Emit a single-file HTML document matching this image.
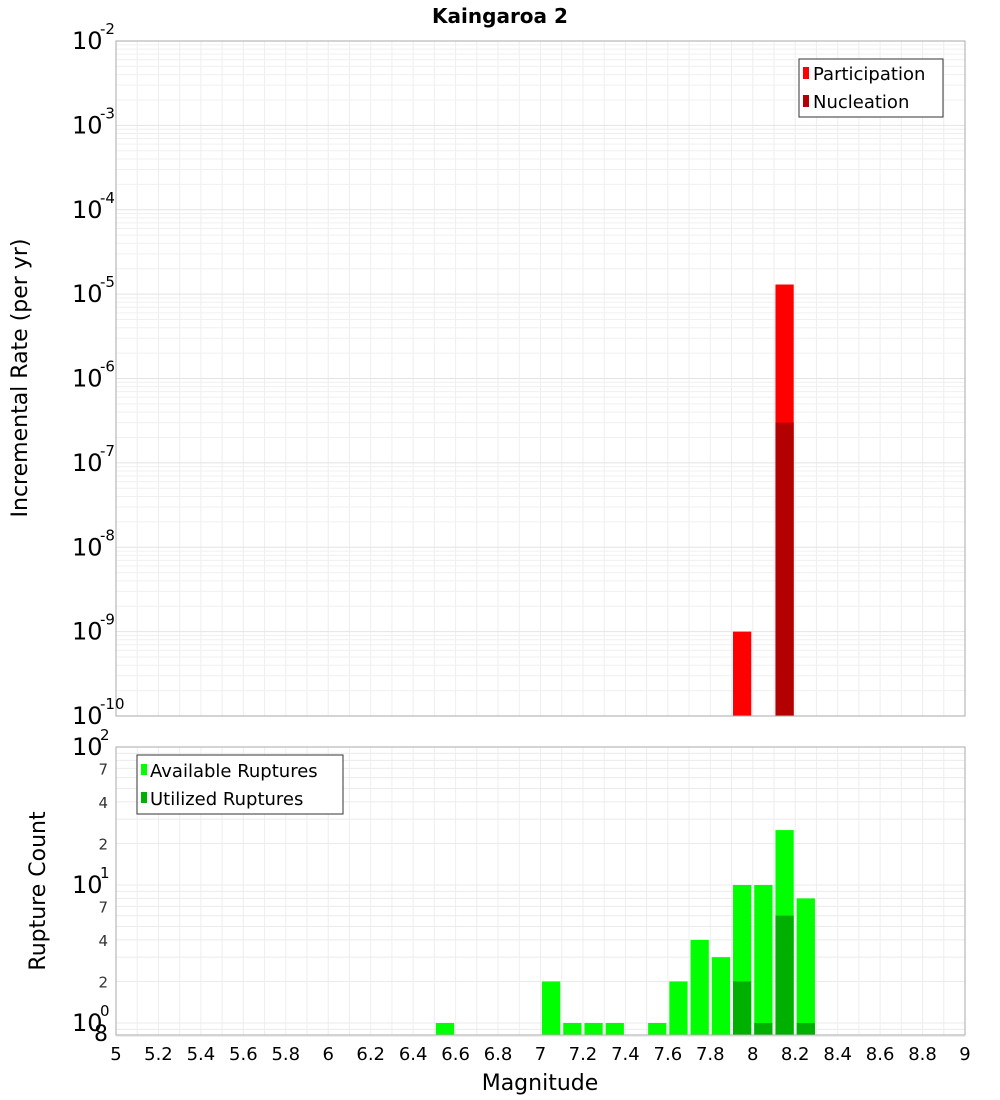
<!DOCTYPE html>
<html><head><meta charset="utf-8"><style>
body{margin:0;background:#fff;}
svg{display:block;font-family:"DejaVu Sans","Liberation Sans",sans-serif;}
</style></head><body>
<svg id="c" width="1000" height="1100" xmlns="http://www.w3.org/2000/svg">
<text x="500" y="23" text-anchor="middle" font-size="20" font-weight="bold">Kaingaroa 2</text>
<g id="top-grid"></g><g id="top-bars"></g>
<rect x="116" y="41" width="849" height="675" fill="none" stroke="#aaa"/>
<g id="bot-grid"></g><g id="bot-bars"></g>
<rect x="116" y="747" width="849" height="288" fill="none" stroke="#aaa"/>
<g id="labels"></g>
<text transform="translate(27,378) rotate(-90)" text-anchor="middle" font-size="22">Incremental Rate (per yr)</text>
<text transform="translate(45,891) rotate(-90)" text-anchor="middle" font-size="22">Rupture Count</text>
<text x="540" y="1090" text-anchor="middle" font-size="22">Magnitude</text>
<g>
<rect x="799" y="59" width="144" height="58" fill="#fff" stroke="#333"/>
<rect x="803" y="67" width="6" height="12" fill="#ff0000"/><text x="813" y="80" font-size="18">Participation</text>
<rect x="803" y="95" width="6" height="12" fill="#b30000"/><text x="813" y="108" font-size="18">Nucleation</text>
</g>
<g>
<rect x="137" y="755" width="206" height="59" fill="#fff" stroke="#333"/>
<rect x="141" y="764" width="6" height="11" fill="#00ff00"/><text x="150" y="777" font-size="18">Available Ruptures</text>
<rect x="141" y="792" width="6" height="11" fill="#00b000"/><text x="150" y="805" font-size="18">Utilized Ruptures</text>
</g>
</svg>
<script>
const mags=[7.95,8.15];
const participation=[1e-9,1.3e-5];
const nucleation=[0,3e-7];
const cntMags=[6.55,7.05,7.15,7.25,7.35,7.55,7.65,7.75,7.85,7.95,8.05,8.15,8.25];
const available=[1,2,1,1,1,1,2,4,3,10,10,25,8];
const utilized=[0,0,0,0,0,0,0,0,0,2,1,6,1];
const xTicks=[5,5.2,5.4,5.6,5.8,6,6.2,6.4,6.6,6.8,7,7.2,7.4,7.6,7.8,8,8.2,8.4,8.6,8.8,9];
const NS="http://www.w3.org/2000/svg";
const X=m=>116+(m-5)*849/4;
const YT=v=>41+(-2-Math.log10(v))*675/8;
const YB=v=>747+(2-Math.log10(v))*138;
function mk(p,t,a){const e=document.createElementNS(NS,t);for(const k in a)e.setAttribute(k,a[k]);document.getElementById(p).appendChild(e);return e;}
// grids
for(let m=5;m<=9.001;m+=0.1){
 const l=mk('top-grid','line',{x1:X(m),x2:X(m),y1:41,y2:716,stroke:'#eee'});
 
 const l2=mk('bot-grid','line',{x1:X(m),x2:X(m),y1:747,y2:1035,stroke:'#eee'});
 
}
for(let d=-10;d<-2;d++)for(let k=1;k<10;k++){const y=YT(k*Math.pow(10,d));
 const l=mk('top-grid','line',{x1:116,x2:965,y1:y,y2:y,stroke:k==1?'#e4e4e4':'#f0f0f0'});
 }
for(let d=-1;d<2;d++)for(let k=1;k<10;k++){const v=k*Math.pow(10,d);if(v<0.8)continue;const y=YB(v);
 const l=mk('bot-grid','line',{x1:116,x2:965,y1:y,y2:y,stroke:'#ebebeb'});
 }
const hw=0.043;
mags.forEach((m,i)=>{
 if(participation[i]>0){const r=mk('top-bars','rect',{x:X(m-hw),width:X(m+hw)-X(m-hw),y:YT(participation[i]),height:716-YT(participation[i]),fill:'#ff0000'});
 }
 if(nucleation[i]>0){const r=mk('top-bars','rect',{x:X(m-hw),width:X(m+hw)-X(m-hw),y:YT(nucleation[i]),height:716-YT(nucleation[i]),fill:'#b30000'});
 }
});
cntMags.forEach((m,i)=>{
 const r=mk('bot-bars','rect',{x:X(m-hw),width:X(m+hw)-X(m-hw),y:YB(available[i]),height:1035-YB(available[i]),fill:'#00ff00'});
 
 if(utilized[i]>0){const u=mk('bot-bars','rect',{x:X(m-hw),width:X(m+hw)-X(m-hw),y:YB(utilized[i]),height:1035-YB(utilized[i]),fill:'#00b000'});
 }
});
xTicks.forEach(t=>{const e=mk('labels','text',{x:X(t),y:1060,'text-anchor':'middle','font-size':18});e.textContent=String(t);
 });
function pow(g,y,exp,name){const e=mk('labels','text',{x:72,y:y+8,'font-size':24});e.textContent='10';
 
 const s=mk('labels','text',{x:100,y:y-7,'font-size':15});s.textContent=exp;
 }
for(let d=-2;d>=-10;d--)pow('labels',YT(Math.pow(10,d)),String(d),'top-y-tick-label');
[0,1,2].forEach(d=>pow('labels',YB(Math.pow(10,d)),String(d),'bottom-y-tick-label'));
[2,4,7,20,40,70].forEach(v=>{const e=mk('labels','text',{x:108,y:YB(v)+6,'text-anchor':'end','font-size':15,fill:'#333'});e.textContent=String(String(v)[0]);
 });
const e8=mk('labels','text',{x:108,y:1041,'text-anchor':'end','font-size':22});e8.textContent='8';

</script>
</body></html>
